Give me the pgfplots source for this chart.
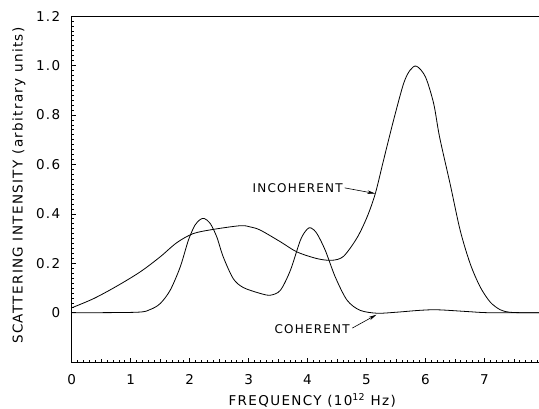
\documentclass[border=0pt]{standalone}
\usepackage{fontspec}
\setmainfont{DejaVu Sans}[LetterSpace=10]
\usepackage{pgfplots}
\pgfplotsset{compat=1.18}
\usetikzlibrary{arrows.meta}
\begin{document}
\begin{tikzpicture}
\begin{axis}[
  scale only axis,
  width=471.3pt, height=346pt,
  xmin=0, xmax=8, ymin=-0.2, ymax=1.2,
  axis line style={line width=0.8pt},
  tick style={black, line width=0.6pt},
  major tick length=4pt, minor tick length=2pt,
  tick align=inside,
  xtick pos=bottom, ytick pos=left,
  xtick={0,1,...,8},
  xticklabels={0,1,2,3,4,5,6,7,{}},
  minor x tick num=9,
  extra x ticks={0.5,1.5,2.5,3.5,4.5,5.5,6.5,7.5},
  extra x tick labels={},
  extra x tick style={major tick length=3pt},
  ytick={0,0.2,0.4,0.6,0.8,1.0,1.2},
  yticklabels={0,0.2,0.4,0.6,0.8,1.0,1.2},
  minor y tick num=9,
  /pgf/number format/assume math mode=true,
  ticklabel style={font=\fontsize{13.5}{15}\selectfont},
  xticklabel style={anchor=center, yshift=-17pt},
  yticklabel style={xshift=-8pt},
  xlabel={FREQUENCY (10$^{\mathrm{12}}$ Hz)},
  ylabel={SCATTERING INTENSITY (arbitrary units)},
  label style={font=\fontsize{13.5}{15}\selectfont},
  x label style={at={(axis description cs:0.51,0)}, anchor=center, yshift=-38pt},
  y label style={at={(axis description cs:-0.112,0.51)}, anchor=center},
]
\addplot[black, line width=0.8pt, smooth] coordinates {
(0,0.02) (0.37,0.057) (0.76,0.107) (1.16,0.165) (1.5,0.226) (1.78,0.283)
(2.06,0.32) (2.4,0.337) (2.86,0.352) (3.03,0.347) (3.2,0.334) (3.54,0.287)
(3.82,0.246) (4.16,0.219) (4.41,0.212) (4.61,0.228) (4.84,0.303) (5.01,0.387)
(5.15,0.482) (5.29,0.617) (5.46,0.779) (5.63,0.927) (5.74,0.981) (5.85,0.997)
(6.0,0.954) (6.14,0.846) (6.24,0.711) (6.42,0.52) (6.59,0.333) (6.76,0.198)
(6.93,0.104) (7.1,0.043) (7.27,0.012) (7.43,0.002) (7.7,0) (8,0)
};
\addplot[black, line width=0.8pt, smooth] coordinates {
(0,0) (1.1,0.002) (1.33,0.013) (1.5,0.037) (1.67,0.091) (1.84,0.185)
(1.98,0.294) (2.09,0.354) (2.18,0.377) (2.25,0.381) (2.35,0.361) (2.46,0.307)
(2.57,0.226) (2.74,0.138) (2.91,0.102) (3.2,0.078) (3.37,0.071) (3.54,0.091)
(3.71,0.172) (3.88,0.294) (3.99,0.337) (4.06,0.343) (4.16,0.32) (4.30,0.253)
(4.47,0.145) (4.67,0.051) (4.89,0.01) (5.18,-0.002) (5.5,0.002) (5.86,0.009)
(6.1,0.012) (6.3,0.011) (6.7,0.005) (7.1,0.0) (8,0)
};
\node[anchor=east, inner sep=0pt, font=\fontsize{12}{14}\selectfont] at (axis cs:4.6,0.503) {INCOHERENT};
\draw[line width=0.6pt, -{Stealth[length=8pt,width=3.5pt]}] (axis cs:4.63,0.505) -- (axis cs:5.15,0.482);
\node[anchor=east, inner sep=0pt, font=\fontsize{12}{14}\selectfont] at (axis cs:4.72,-0.068) {COHERENT};
\draw[line width=0.6pt, -{Stealth[length=8pt,width=3.5pt]}] (axis cs:4.76,-0.062) -- (axis cs:5.17,-0.008);
\end{axis}
\pgfresetboundingbox
\path[use as bounding box] ([shift={(-71.7pt,-46pt)}]current axis.south west) rectangle ([shift={(-4.3pt,16pt)}]current axis.north east);
\end{tikzpicture}
\end{document}
